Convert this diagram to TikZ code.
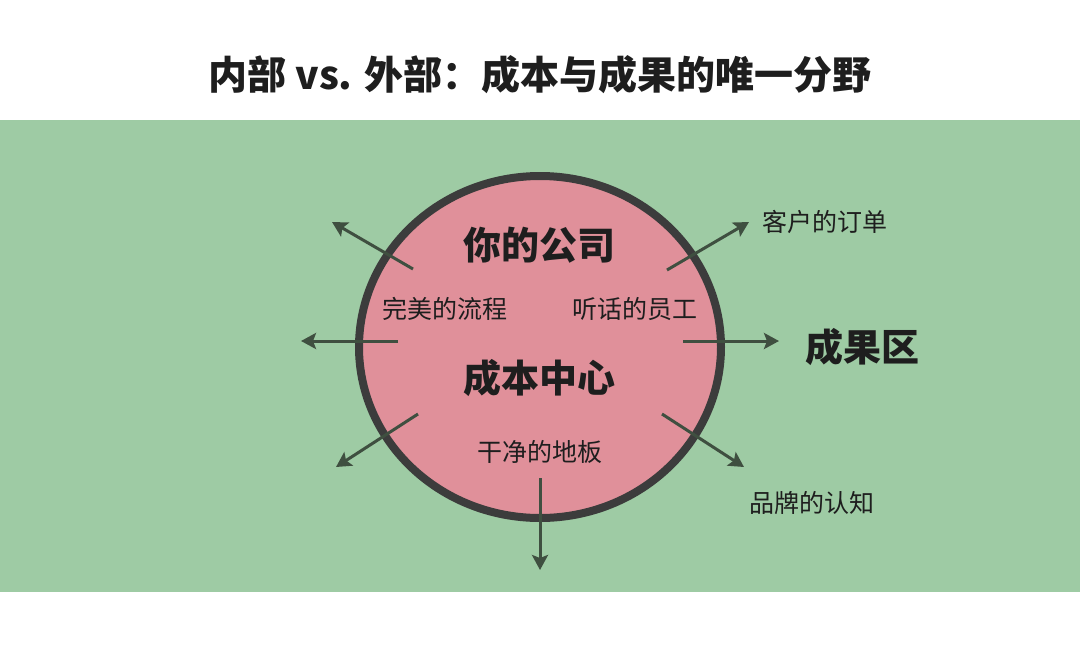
\documentclass[tikz,border=0pt]{standalone}
\usepackage{fontspec}
\setmainfont{Noto Sans CJK SC}
\usetikzlibrary{arrows.meta,shapes.geometric}
\definecolor{bandgreen}{HTML}{9ECBA4}
\definecolor{pinkfill}{HTML}{E0909A}
\definecolor{ringgray}{HTML}{3C3C3C}
\definecolor{arrowgray}{HTML}{3F4F40}
\definecolor{txt}{HTML}{1E1E1E}
\tikzset{
  ray/.style={draw=arrowgray, line width=3pt, -{Stealth[length=15pt,width=16pt,inset=3pt]}},
  bigtxt/.style={font=\fontsize{38}{40}\selectfont\bfseries, text=txt, inner sep=0pt},
  smalltxt/.style={font=\fontsize{25}{27}\selectfont, text=txt, inner sep=0pt},
}
\begin{document}
\begin{tikzpicture}[x=1pt,y=-1pt]
\useasboundingbox (0,0) rectangle (1080,657);
\fill[white] (0,0) rectangle (1080,657);
\fill[bandgreen] (0,120) rectangle (1080,592);
\node[font=\fontsize{39}{42}\selectfont\bfseries, text=txt, inner sep=0pt] (title) at (540,75) {内部 vs. 外部：成本与成果的唯一分野};
\node[ellipse, draw=ringgray, fill=pinkfill, line width=8pt, minimum width=362pt, minimum height=342pt, inner sep=0pt] (c) at (540,347) {};
% ray coordinates
\coordinate (s1) at (413,269); \coordinate (e1) at (332,222);
\coordinate (s2) at (398,341); \coordinate (e2) at (301,341);
\coordinate (s3) at (418,414); \coordinate (e3) at (336,467);
\coordinate (s4) at (540,478); \coordinate (e4) at (540,570);
\coordinate (s5) at (662,414); \coordinate (e5) at (744,467);
\coordinate (s6) at (683,341); \coordinate (e6) at (779,341);
\coordinate (s7) at (667,270); \coordinate (e7) at (749,222);
\draw[ray] (s1) -- (e1);
\draw[ray] (s2) -- (e2);
\draw[ray] (s3) -- (e3);
\draw[ray] (s4) -- (e4);
\draw[ray] (s5) -- (e5);
\draw[ray] (s6) -- (e6);
\draw[ray] (s7) -- (e7);
\node[bigtxt] (you) at (539,245) {你的公司};
\node[bigtxt] (cost) at (539,378) {成本中心};
\node[smalltxt] (flow) at (445,309) {完美的流程};
\node[smalltxt] (staff) at (635,309) {听话的员工};
\node[smalltxt] (floor) at (540,452) {干净的地板};
\node[smalltxt] (order) at (825,222) {客户的订单};
\node[bigtxt] (result) at (862,347) {成果区};
\node[smalltxt] (brand) at (812,503) {品牌的认知};
\end{tikzpicture}
\end{document}
